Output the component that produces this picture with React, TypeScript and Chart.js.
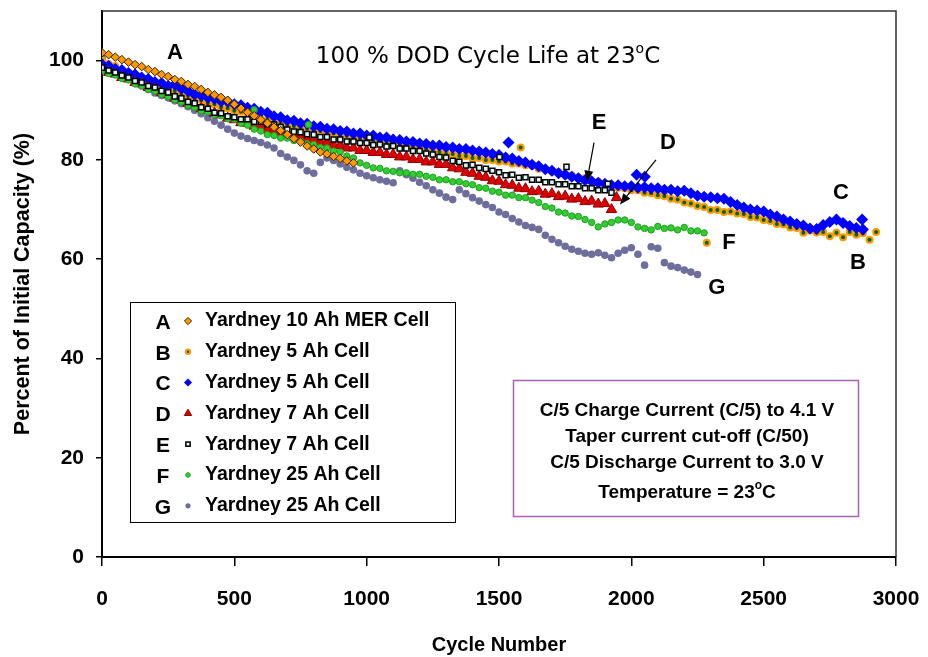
import React, { useEffect, useRef } from "react";
import { Chart, registerables } from "chart.js";
import { drawPoint } from "chart.js/helpers";

Chart.register(...registerables);

// Cycle numbers (shared sampling grid for the measured series)
const CYCLES = [0,25,50,75,100,125,150,175,200,225,250,275,300,325,350,375,400,425,450,475,500,525,550,575,600,625,650,675,700,725,750,775,800,825,850,875,900,925,950,975,1000,1025,1050,1075,1100,1125,1150,1175,1200,1225,1250,1275,1300,1325,1350,1375,1400,1425,1450,1475,1500,1525,1550,1575,1600,1625,1650,1675,1700,1725,1750,1775,1800,1825,1850,1875,1900,1925,1950,1975,2000,2025,2050,2075,2100,2125,2150,2175,2200,2225,2250,2275,2300,2325,2350,2375,2400,2425,2450,2475,2500,2525,2550,2575,2600,2625,2650,2675,2700,2725,2750,2775,2800,2825,2850,2875,2900,2925];

// Percent of initial capacity for each cell
const CELL_A = [101.6,101.2,100.7,100.2,99.7,99.2,98.8,98.2,97.8,97.2,96.8,96.2,95.8,95.2,94.8,94.2,93.6,93.1,92.6,92.0,91.2,90.4,89.6,88.9,88.1,87.4,86.6,85.9,85.1,84.3,83.6,82.8,82.2,81.6,81.2,80.7,80.3,79.8,79.4];
const CELL_B = [100.0,99.3,98.9,98.1,97.5,97.1,96.3,95.9,95.2,94.9,94.2,93.9,93.2,92.9,92.3,92.0,91.4,91.2,90.6,90.4,89.9,89.7,89.0,88.8,88.2,88.1,87.5,87.4,86.9,86.8,86.4,86.3,85.9,85.8,85.4,85.3,84.9,84.8,84.4,84.3,83.9,83.9,83.4,83.4,83.0,83.0,82.5,82.5,82.1,82.1,81.7,81.6,81.2,81.2,80.8,80.8,80.4,80.4,80.0,80.0,79.7,79.7,79.3,79.3,78.9,78.8,78.2,78.1,77.6,77.5,77.0,76.9,76.4,76.3,75.7,75.6,75.0,74.9,74.4,74.3,73.9,73.9,73.4,73.3,72.9,72.7,72.2,72.0,71.4,71.2,70.7,70.5,69.9,69.9,69.5,69.6,69.2,69.1,68.5,68.4,67.9,67.7,67.1,67.0,66.4,66.3,65.3,65.8,65.4,65.5,64.6,65.3,64.4,65.5,64.9,65.2,63.9,65.5];
const CELL_C = [99.2,98.9,98.3,98.1,97.5,97.2,96.6,96.3,95.7,95.5,94.9,95.2,94.4,93.9,93.2,93.0,92.5,92.3,91.8,91.7,91.2,91.0,90.5,90.3,89.7,89.5,88.8,88.6,88.0,87.9,87.4,87.3,86.8,86.7,86.3,86.2,85.8,85.7,85.3,85.3,84.9,84.9,84.5,84.5,84.1,84.0,83.7,83.6,83.3,83.2,82.9,82.9,82.6,82.5,82.2,82.2,81.9,81.7,81.5,81.2,81.0,80.5,80.3,79.8,79.5,79.0,78.7,78.1,77.8,77.3,77.0,76.6,76.3,75.9,75.7,75.4,75.2,74.9,74.9,74.7,74.7,74.4,74.5,74.3,74.3,74.0,74.0,73.7,73.8,73.3,72.8,72.6,72.5,72.3,72.2,71.5,70.9,70.4,70.0,69.8,69.6,69.0,68.6,68.0,67.6,67.1,66.8,66.2,66.1,66.9,67.5,68.0,67.3,66.7,66.3,66.0];
const CELL_D = [98.2,97.6,97.3,96.6,96.3,95.6,95.3,94.6,94.3,93.5,93.2,92.4,92.1,91.4,91.1,90.4,90.1,89.4,89.1,88.4,88.1,87.5,87.4,86.8,86.7,86.1,86.0,85.4,85.3,84.8,84.7,84.2,84.1,83.6,83.5,83.0,82.9,82.4,82.4,81.9,81.9,81.5,81.5,81.1,81.1,80.6,80.6,80.1,80.1,79.6,79.6,79.1,79.1,78.4,78.2,77.5,77.3,76.7,76.5,75.8,75.7,75.0,74.9,74.3,74.2,73.6,73.7,73.1,73.2,72.6,72.7,72.1,72.2,71.6,71.7,71.1,71.2,70.0];
const CELL_E = [98.6,98.0,97.6,97.0,96.6,95.9,95.6,94.9,94.6,93.9,93.6,92.8,92.4,91.7,91.4,90.6,90.3,89.5,89.4,88.8,88.6,88.2,88.2,87.7,87.7,87.2,87.1,86.6,86.1,85.7,85.6,85.2,85.1,84.6,84.6,84.1,84.1,83.7,83.7,83.4,83.4,83.0,83.1,82.7,82.8,82.3,82.3,81.8,81.8,81.3,81.1,80.6,80.5,79.8,79.6,78.9,79.0,78.4,78.2,77.8,77.5,76.9,77.0,76.4,76.5,76.0,76.0,75.5,75.5,75.1,75.1,74.7,74.7,74.3,74.3,73.9,73.9,73.4];
const CELL_F = [98.0,97.4,97.1,96.4,96.1,95.3,95.0,94.2,93.9,93.2,92.8,92.1,91.7,91.0,90.6,89.9,89.7,89.1,88.9,88.3,88.2,87.4,87.0,86.2,85.8,85.1,84.9,84.4,84.4,83.9,83.8,83.3,83.1,82.5,82.4,81.8,81.6,80.8,80.4,79.4,78.9,78.4,78.3,77.8,77.7,77.4,77.4,77.1,77.1,76.7,76.5,76.0,76.0,75.6,75.6,75.2,75.0,74.4,74.3,73.7,73.5,72.9,72.9,72.4,72.4,71.9,71.4,70.6,70.3,69.5,69.3,68.7,68.6,68.0,67.4,66.5,67.1,67.4,67.9,67.9,67.4,66.5,66.2,65.9,66.6,66.2,66.3,65.9,66.4,65.7,65.7,65.3];
const CELL_G = [100.5,99.2,98.0,97.1,96.3,95.6,94.9,94.2,93.5,93.0,92.5,91.9,91.3,90.7,90.0,89.3,88.5,87.8,87.0,86.2,85.4,84.8,84.3,83.9,83.5,83.0,82.4,81.3,80.6,79.9,79.0,77.8,77.3,79.5,80.4,79.9,79.2,78.5,78.0,77.3,76.8,76.4,76.0,75.7,75.4,77.8,77.0,76.3,75.5,74.8,74.0,73.3,72.5,72.0,74.0,73.2,72.4,71.7,71.0,70.4,69.5,69.0,68.2,67.5,66.8,66.4,66.0,64.8,64.0,63.3,62.6,62.0,61.6,61.2,61.0,61.3,60.8,60.3,61.2,61.8,62.3,61.0,58.8,62.5,62.2,59.3,58.6,58.3,57.8,57.4,56.9];

// Isolated readings off the main trend: [cycle, percent]
const EXTRA_B = [[1582, 82.5], [2285, 63.3]];
const EXTRA_C = [[1536, 83.5], [2020, 77.0], [2051, 76.6], [2872, 68.0]];
const EXTRA_D = [[1944, 72.4]];
const EXTRA_E = [[1010, 84.5], [1502, 80.6], [1755, 78.6], [1911, 75.2]];
const EXTRA_F = [[575, 90.1], [780, 87.1]];

const X_TICK_STEP = 500;
const Y_TICK_STEP = 20;

const LETTERS = ["A", "B", "C", "D", "E", "F", "G"];
const LABELS = [
  "Yardney 10 Ah MER Cell",
  "Yardney 5 Ah Cell",
  "Yardney 5 Ah Cell",
  "Yardney 7 Ah Cell",
  "Yardney 7 Ah Cell",
  "Yardney 25 Ah Cell",
  "Yardney 25 Ah Cell",
];

// Letter tags placed in data coordinates
const TAGS = [
  ["A", 276, 101.6],
  ["B", 2856, 59.3],
  ["C", 2792, 73.4],
  ["D", 2138, 83.5],
  ["E", 1878, 87.5],
  ["F", 2369, 63.3],
  ["G", 2323, 54.2],
];
// Arrows: [fromX, fromY, toX, toY] in data coordinates
const ARROWS = [
  [1859, 83.5, 1832, 75.6],
  [2093, 80.0, 1957, 71.0],
];

const NOTE_LINES = [
  "C/5 Charge Current (C/5) to 4.1 V",
  "Taper current cut-off (C/50)",
  "C/5 Discharge Current to 3.0 V",
];

const FONT = "'Liberation Sans', Arial, sans-serif";

function toPoints(values: number[], extra: number[][] = []) {
  const pts = values.map((v, i) => ({ x: CYCLES[i], y: v }));
  extra.forEach(([x, y]) => pts.push({ x, y }));
  return pts;
}

const STYLES = [
  { pointStyle: "rectRot", radius: 4.3, bg: "#FF9900", border: "#3a2000", bw: 1, order: 0, lr: 3.6 },
  { pointStyle: "circle", radius: 3, bg: "#006600", border: "#FF9900", bw: 2, order: 5, lr: 2.2 },
  { pointStyle: "rectRot", radius: 6, bg: "#0000FF", border: "#0000FF", bw: 0, order: 4, lr: 4 },
  { pointStyle: "triangle", radius: 6, bg: "#E00000", border: "#8B0000", bw: 1, order: 3, lr: 4.2 },
  { pointStyle: "rect", radius: 3.6, bg: "#DDF6F6", border: "#000000", bw: 1.5, order: 1, lr: 3 },
  { pointStyle: "circle", radius: 3.2, bg: "#33CC33", border: "#1FA01F", bw: 1, order: 2, lr: 2.3 },
  { pointStyle: "circle", radius: 3.8, bg: "#6E6E9C", border: "#6E6E9C", bw: 0, order: 6, lr: 2.6 },
];

const DATA_SETS = [
  toPoints(CELL_A),
  toPoints(CELL_B, EXTRA_B),
  toPoints(CELL_C, EXTRA_C),
  toPoints(CELL_D, EXTRA_D),
  toPoints(CELL_E, EXTRA_E),
  toPoints(CELL_F, EXTRA_F),
  toPoints(CELL_G),
];

function drawDegreeText(ctx: CanvasRenderingContext2D, before: string, after: string, font: string, supFont: string, cx: number, baseY: number, supRise: number) {
  ctx.font = font;
  const w1 = ctx.measureText(before).width;
  const w3 = ctx.measureText(after).width;
  ctx.font = supFont;
  const w2 = ctx.measureText("o").width;
  const total = w1 + w2 + w3;
  let x = cx - total / 2;
  ctx.textAlign = "left";
  ctx.textBaseline = "alphabetic";
  ctx.font = font;
  ctx.fillText(before, x, baseY);
  x += w1;
  ctx.font = supFont;
  ctx.fillText("o", x, baseY - supRise);
  x += w2;
  ctx.font = font;
  ctx.fillText(after, x, baseY);
}

const overlayPlugin = {
  id: "overlay",
  afterDraw(chart: any) {
    const { ctx, chartArea } = chart;
    const xs = chart.scales.x;
    const ys = chart.scales.y;
    ctx.save();

    // plot frame (top & right)
    ctx.strokeStyle = "#333";
    ctx.lineWidth = 1.5;
    ctx.beginPath();
    ctx.moveTo(chartArea.left, chartArea.top);
    ctx.lineTo(chartArea.right, chartArea.top);
    ctx.lineTo(chartArea.right, chartArea.bottom);
    ctx.stroke();

    ctx.fillStyle = "#000";
    // title
    drawDegreeText(ctx, "100 % DOD Cycle Life at 23", "C", "23px 'DejaVu Sans', sans-serif", "14px 'DejaVu Sans', sans-serif", 488, 63, 10);

    // letter tags
    ctx.font = `bold 22px ${FONT}`;
    ctx.textAlign = "center";
    ctx.textBaseline = "middle";
    TAGS.forEach(([t, x, y]) => {
      ctx.fillText(t as string, xs.getPixelForValue(x as number), ys.getPixelForValue(y as number));
    });

    // arrows
    ctx.strokeStyle = "#000";
    ctx.fillStyle = "#000";
    ctx.lineWidth = 1.2;
    ARROWS.forEach(([x1, y1, x2, y2]) => {
      const px1 = xs.getPixelForValue(x1), py1 = ys.getPixelForValue(y1);
      const px2 = xs.getPixelForValue(x2), py2 = ys.getPixelForValue(y2);
      const ang = Math.atan2(py2 - py1, px2 - px1);
      const len = 11, half = 4.5;
      const bx = px2 - len * Math.cos(ang), by = py2 - len * Math.sin(ang);
      ctx.beginPath();
      ctx.moveTo(px1, py1);
      ctx.lineTo(bx, by);
      ctx.stroke();
      ctx.beginPath();
      ctx.moveTo(px2, py2);
      ctx.lineTo(bx + half * Math.sin(ang), by - half * Math.cos(ang));
      ctx.lineTo(bx - half * Math.sin(ang), by + half * Math.cos(ang));
      ctx.closePath();
      ctx.fill();
    });

    // legend box
    ctx.fillStyle = "#fff";
    ctx.fillRect(130, 302, 325, 220);
    ctx.strokeStyle = "#000";
    ctx.lineWidth = 1;
    ctx.strokeRect(130.5, 302.5, 325, 220);
    LETTERS.forEach((letter, i) => {
      const rowY = 321 + i * 30.8;
      ctx.fillStyle = "#000";
      ctx.font = `bold 21px ${FONT}`;
      ctx.textAlign = "center";
      ctx.textBaseline = "middle";
      ctx.fillText(letter, 163, rowY + 2);
      const s = STYLES[i];
      ctx.fillStyle = s.bg;
      ctx.strokeStyle = s.border;
      ctx.lineWidth = s.bw;
      drawPoint(ctx, { pointStyle: s.pointStyle as any, radius: s.lr, borderWidth: s.bw, rotation: 0 } as any, 188, rowY);
      ctx.fillStyle = "#000";
      ctx.font = `bold 19.5px ${FONT}`;
      ctx.textAlign = "left";
      ctx.fillText(LABELS[i], 205, rowY);
    });

    // test-condition box
    ctx.fillStyle = "#fff";
    ctx.fillRect(513, 380, 345, 136);
    ctx.strokeStyle = "#B060B0";
    ctx.lineWidth = 1.5;
    ctx.strokeRect(513.5, 380.5, 345, 136);
    ctx.fillStyle = "#000";
    ctx.font = `bold 19px ${FONT}`;
    ctx.textAlign = "center";
    ctx.textBaseline = "middle";
    const noteYs = [411, 437, 463];
    NOTE_LINES.forEach((t, i) => ctx.fillText(t, 687, noteYs[i]));
    drawDegreeText(ctx, "Temperature = 23", "C", `bold 19px ${FONT}`, `bold 12px ${FONT}`, 687, 498, 9);

    ctx.restore();
  },
};

export default function App() {
  const ref = useRef<HTMLCanvasElement>(null);
  useEffect(() => {
    document.body.style.margin = "0";
    const datasets = DATA_SETS.map((pts, i) => {
      const s = STYLES[i];
      return {
        label: `${LETTERS[i]} ${LABELS[i]}`,
        data: pts,
        showLine: false,
        pointStyle: s.pointStyle,
        pointRadius: s.radius,
        pointBackgroundColor: s.bg,
        pointBorderColor: s.border,
        pointBorderWidth: s.bw,
        order: s.order,
      };
    });
    const chart = new Chart(ref.current as HTMLCanvasElement, {
      type: "scatter",
      data: { datasets } as any,
      plugins: [overlayPlugin],
      options: {
        responsive: false,
        animation: false,
        events: [],
        layout: { padding: { top: 11, right: 32, left: 0, bottom: 0 } },
        plugins: { legend: { display: false }, tooltip: { enabled: false } },
        scales: {
          x: {
            type: "linear",
            min: 0,
            max: 3000,
            afterFit: (s: any) => { s.height = 100; s.paddingLeft = 0; s.paddingRight = 0; },
            ticks: { stepSize: X_TICK_STEP, color: "#000", padding: 21, maxRotation: 0, autoSkip: false, callback: (v: any) => String(v), font: { family: FONT, size: 21, weight: "bold" } },
            grid: { drawOnChartArea: false, drawTicks: true, tickLength: 9, color: "#000", lineWidth: 1.5 },
            border: { display: true, color: "#000", width: 2 },
            title: { display: true, text: "Cycle Number", color: "#000", padding: { top: 0, bottom: 0 }, font: { family: FONT, size: 20, weight: "bold" } },
          },
          y: {
            type: "linear",
            min: 0,
            max: 110,
            afterFit: (s: any) => { s.width = 102; s.paddingTop = 0; s.paddingBottom = 0; },
            ticks: { stepSize: Y_TICK_STEP, includeBounds: false, color: "#000", padding: 12, callback: (v: any) => String(v), font: { family: FONT, size: 21, weight: "bold" } },
            grid: { drawOnChartArea: false, drawTicks: true, tickLength: 6, color: "#000", lineWidth: 1.5 },
            border: { display: true, color: "#000", width: 2 },
            title: { display: true, text: "Percent of Initial Capacity (%)", color: "#000", padding: { top: 10, bottom: 0 }, font: { family: FONT, size: 21.5, weight: "bold" } },
          },
        },
      } as any,
    });
    return () => chart.destroy();
  }, []);
  return <canvas ref={ref} width={928} height={657} style={{ display: "block", width: 928, height: 657 }} />;
}
